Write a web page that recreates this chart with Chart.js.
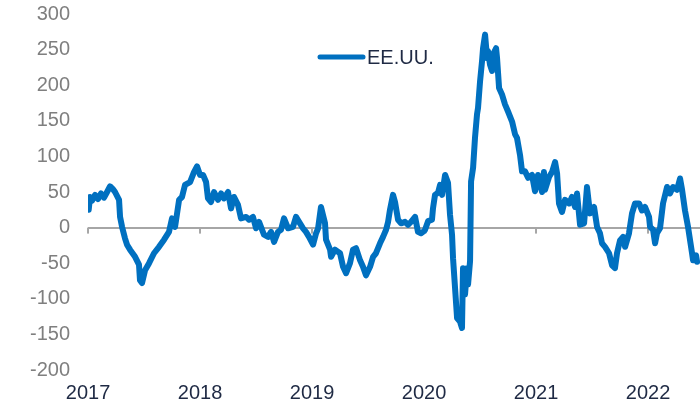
<!DOCTYPE html>
<html>
<head>
  <title>EE.UU.</title>
  <script src="https://cdn.jsdelivr.net/npm/chart.js"></script>
  <style>
    html, body { margin: 0; padding: 0; background: #fff; }
    #wrap { width: 700px; height: 406px; position: relative; }
  </style>
</head>
<body>
  <div id="wrap"><canvas id="usChart"></canvas></div>

  <script>
    // fecha en años decimales
    const dates = [
      2017.006, 2017.018, 2017.036, 2017.063, 2017.089, 2017.116, 2017.143, 2017.170, 2017.196, 2017.223,
      2017.241, 2017.277, 2017.286, 2017.304, 2017.330, 2017.348, 2017.375, 2017.420, 2017.455, 2017.464,
      2017.482, 2017.509, 2017.545, 2017.589, 2017.634, 2017.679, 2017.723, 2017.750, 2017.777, 2017.813,
      2017.839, 2017.866, 2017.911, 2017.946, 2017.973, 2018.000,
      2018.027, 2018.054, 2018.071, 2018.098, 2018.125, 2018.161, 2018.188, 2018.214, 2018.250, 2018.277,
      2018.304, 2018.339, 2018.366, 2018.411, 2018.438, 2018.473, 2018.500, 2018.527, 2018.571, 2018.607,
      2018.634, 2018.661, 2018.696, 2018.723, 2018.750, 2018.786, 2018.830, 2018.857, 2018.884, 2018.920,
      2018.946, 2018.973,
      2019.009, 2019.036, 2019.054, 2019.080, 2019.116, 2019.125, 2019.161, 2019.170, 2019.205, 2019.250,
      2019.277, 2019.304, 2019.339, 2019.366, 2019.393, 2019.429, 2019.455, 2019.482, 2019.518, 2019.545,
      2019.571, 2019.607, 2019.634, 2019.661, 2019.679, 2019.696, 2019.723, 2019.741, 2019.768, 2019.795,
      2019.830, 2019.857, 2019.884, 2019.920, 2019.946, 2019.973, 2020.000,
      2020.009, 2020.036, 2020.071, 2020.080, 2020.098, 2020.125, 2020.143, 2020.161, 2020.188, 2020.214,
      2020.232, 2020.250, 2020.259, 2020.277, 2020.295, 2020.321, 2020.339, 2020.348, 2020.366, 2020.384,
      2020.393, 2020.411, 2020.420, 2020.438, 2020.455, 2020.473, 2020.482, 2020.500, 2020.518, 2020.527,
      2020.545, 2020.563, 2020.571, 2020.589, 2020.607, 2020.616, 2020.643, 2020.652, 2020.670, 2020.696,
      2020.723, 2020.750, 2020.786, 2020.813, 2020.830, 2020.857, 2020.875, 2020.902, 2020.929, 2020.964,
      2020.991,
      2021.018, 2021.027, 2021.054, 2021.071, 2021.080, 2021.116, 2021.143, 2021.170, 2021.188, 2021.205,
      2021.232, 2021.259, 2021.295, 2021.321, 2021.348, 2021.366, 2021.393, 2021.429, 2021.455, 2021.482,
      2021.518, 2021.545, 2021.571, 2021.589, 2021.616, 2021.652, 2021.679, 2021.705, 2021.723, 2021.750,
      2021.777, 2021.795, 2021.830, 2021.857, 2021.884, 2021.920, 2021.946, 2021.973,
      2022.009, 2022.018, 2022.045, 2022.063, 2022.080, 2022.107, 2022.134, 2022.170, 2022.196, 2022.223,
      2022.259, 2022.286, 2022.304, 2022.330, 2022.357, 2022.393, 2022.402, 2022.429, 2022.438
    ];

    const usValues = [
      25, 43, 38, 46, 40, 48, 42, 50, 58, 54,
      50, 39, 15, 1, -15, -24, -31, -41, -52, -74,
      -78, -60, -50, -36, -27, -17, -6, 13, 1, 39,
      43, 60, 64, 78, 86, 74,
      74, 64, 41, 36, 50, 39, 48, 41, 50, 27,
      43, 32, 13, 15, 11, 15, -1, 8, -10, -13,
      -6, -20, -6, -3, 13, -1, 1, 15, 8, -1,
      -6, -13,
      -24, -8, -1, 29, 6, -17, -31, -41, -31, -36,
      -55, -64, -50, -31, -29, -46, -55, -67, -55, -41,
      -36, -22, -13, -3, 8, 25, 46, 36, 11, 6,
      8, 4, 8, 15, -6, -8, -5,
      -3, 9, 11, 27, 46, 49, 60, 46, 74, 63,
      18, -10, -43, -85, -127, -132, -141, -57, -94, -57,
      -80, -47, 65, 84, 126, 159, 168, 205, 234, 252,
      271, 238, 248, 229, 220, 243, 252, 238, 196, 187,
      173, 163, 149, 131, 126, 102, 79, 79, 70, 74,
      51,
      74, 67, 50, 78, 53, 71, 78, 92, 76, 34,
      22, 39, 34, 43, 29, 48, 4, 6, 57, 20,
      29, 1, -8, -22, -27, -36, -53, -57, -36, -18,
      -13, -27, -8, 20, 34, 34, 24, 29,
      15, 1, -3, -22, -8, -1, 34, 57, 48, 57,
      53, 69, 53, 24, 1, -36, -46, -39, -48
    ];

    const yearTicks = [2017, 2018, 2019, 2020, 2021, 2022];
    const seriesLabel = 'EE.UU.';
    const lineColor = '#0070C0';
    const fontFamily = '"Liberation Sans", Arial, sans-serif';

    const points = dates.map((d, i) => ({ x: d, y: usValues[i] }));

    // marcas pequeñas en la línea del cero
    const zeroTicks = {
      id: 'zeroTicks',
      beforeDatasetsDraw(chart) {
        const x = chart.scales.x, y = chart.scales.y;
        const y0 = y.getPixelForValue(0);
        const ctx = chart.ctx;
        ctx.save();
        ctx.strokeStyle = '#A6A6A6';
        ctx.lineWidth = 2;
        yearTicks.forEach(t => {
          const px = x.getPixelForValue(t);
          ctx.beginPath();
          ctx.moveTo(px, y0);
          ctx.lineTo(px, y0 + 6);
          ctx.stroke();
        });
        ctx.restore();
      }
    };

    // leyenda dentro del gráfico, arriba al centro
    const innerLegend = {
      id: 'innerLegend',
      afterDraw(chart) {
        const a = chart.chartArea;
        const ctx = chart.ctx;
        const lx = a.left + 232, ly = a.top + 43;
        ctx.save();
        ctx.strokeStyle = lineColor;
        ctx.lineWidth = 5;
        ctx.lineCap = 'round';
        ctx.beginPath();
        ctx.moveTo(lx, ly);
        ctx.lineTo(lx + 43, ly);
        ctx.stroke();
        ctx.fillStyle = '#1F2A44';
        ctx.font = '20px ' + fontFamily;
        ctx.textBaseline = 'middle';
        ctx.fillText(seriesLabel, lx + 47, ly + 1);
        ctx.restore();
      }
    };

    const ctx = document.getElementById('usChart').getContext('2d');
    new Chart(ctx, {
      type: 'line',
      data: {
        datasets: [{
          label: seriesLabel,
          data: points,
          borderColor: lineColor,
          backgroundColor: lineColor,
          borderWidth: 6,
          pointRadius: 0,
          tension: 0,
          borderJoinStyle: 'round',
          borderCapStyle: 'round'
        }]
      },
      options: {
        responsive: true,
        maintainAspectRatio: false,
        animation: false,
        layout: { padding: { left: 12, top: 0, right: 0, bottom: 0 } },
        plugins: {
          tooltip: { enabled: false },
          legend: { display: false }
        },
        scales: {
          x: {
            type: 'linear',
            min: 2017,
            max: 2022.464,
            border: { display: false },
            grid: { display: false, drawTicks: false },
            afterFit: s => { s.height = 36; },
            ticks: {
              stepSize: 1,
              includeBounds: false,
              autoSkip: false,
              maxRotation: 0,
              padding: 11,
              color: '#1F2A44',
              font: { family: fontFamily, size: 20 },
              callback: v => String(v)
            }
          },
          y: {
            min: -200,
            max: 300,
            border: { display: false },
            grid: {
              drawTicks: false,
              color: c => (c.tick && c.tick.value === 0 ? '#A6A6A6' : 'rgba(0,0,0,0)'),
              lineWidth: 2
            },
            afterFit: s => { s.paddingTop = 14; s.paddingBottom = 12; },
            ticks: {
              stepSize: 50,
              padding: 18,
              color: '#7F7F7F',
              font: { family: fontFamily, size: 20 }
            }
          }
        }
      },
      plugins: [zeroTicks, innerLegend]
    });
  </script>
</body>
</html>
